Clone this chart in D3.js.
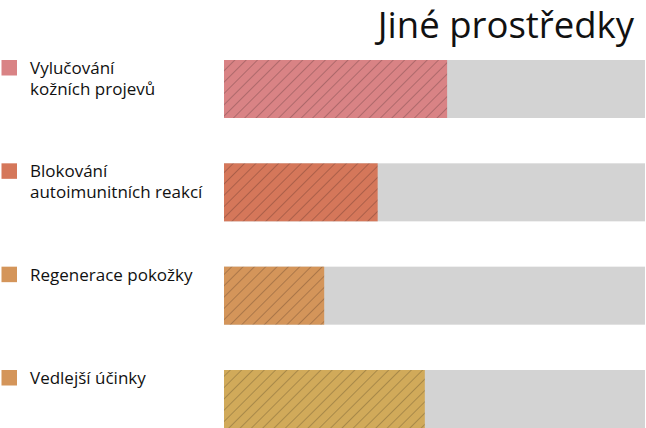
<!DOCTYPE html>
<html>
<head>
<meta charset="utf-8">
<script src="https://cdn.jsdelivr.net/npm/d3@7"></script>
<style>
  html, body { margin: 0; padding: 0; background: #fff; }
  svg { display: block; }
  text { font-family: "Open Sans", "Noto Sans", sans-serif; fill: #111; }
</style>
</head>
<body>
<svg id="chart" width="646" height="428"></svg>
<script>
const title = "Jiné prostředky";
const categories = [
  ["Vylučování", "kožních projevů"],
  ["Blokování", "autoimunitních reakcí"],
  ["Regenerace pokožky"],
  ["Vedlejší účinky"]
];
const values = [53, 36.5, 23.8, 47.7];
const maxValue = 100;
const barColors = ["#d98385", "#d5775a", "#d4955a", "#d1aa5a"];
const legendColors = ["#d98385", "#d5775a", "#d4955a", "#d4955a"];

const svg = d3.select("#chart");
const defs = svg.append("defs");

const x = d3.scaleLinear().domain([0, maxValue]).range([224, 645]);
const y = d3.scaleBand().domain(d3.range(categories.length)).range([60, 428]).paddingInner(0.4387).paddingOuter(0);

// hatch patterns
barColors.forEach((c, i) => {
  const p = defs.append("pattern")
    .attr("id", "hatch" + i)
    .attr("patternUnits", "userSpaceOnUse")
    .attr("width", 8).attr("height", 8)
    .attr("patternTransform", "rotate(45)");
  p.append("rect").attr("width", 8).attr("height", 8).attr("fill", c);
  p.append("line").attr("x1", 0.5).attr("y1", 0).attr("x2", 0.5).attr("y2", 8)
    .attr("stroke", d3.color(c).darker(1.4)).attr("stroke-opacity", 0.5).attr("stroke-width", 1);
});

// background bars
svg.append("g").selectAll("rect").data(values).join("rect")
  .attr("x", x(0)).attr("y", (d, i) => y(i))
  .attr("width", x(maxValue) - x(0)).attr("height", y.bandwidth())
  .attr("fill", "#d3d3d3");

// value bars
svg.append("g").selectAll("rect").data(values).join("rect")
  .attr("x", x(0)).attr("y", (d, i) => y(i))
  .attr("width", d => x(d) - x(0)).attr("height", y.bandwidth())
  .attr("fill", (d, i) => `url(#hatch${i})`);

// legend
const lg = svg.append("g").selectAll("g").data(categories).join("g")
  .attr("transform", (d, i) => `translate(0,${y(i)})`);
lg.append("rect").attr("x", 1.5).attr("y", 0).attr("width", 15.5).attr("height", 15.5)
  .attr("fill", (d, i) => legendColors[i]);
lg.append("text").attr("x", 30).attr("y", 14)
  .style("font-size", "17px")
  .selectAll("tspan").data(d => d).join("tspan")
  .attr("x", 30).attr("dy", (d, j) => j === 0 ? 0 : 21)
  .text(d => d);

// title
svg.append("text").attr("x", 634).attr("y", 38)
  .attr("text-anchor", "end")
  .style("font-size", "36.5px")
  .text(title);
</script>
</body>
</html>
